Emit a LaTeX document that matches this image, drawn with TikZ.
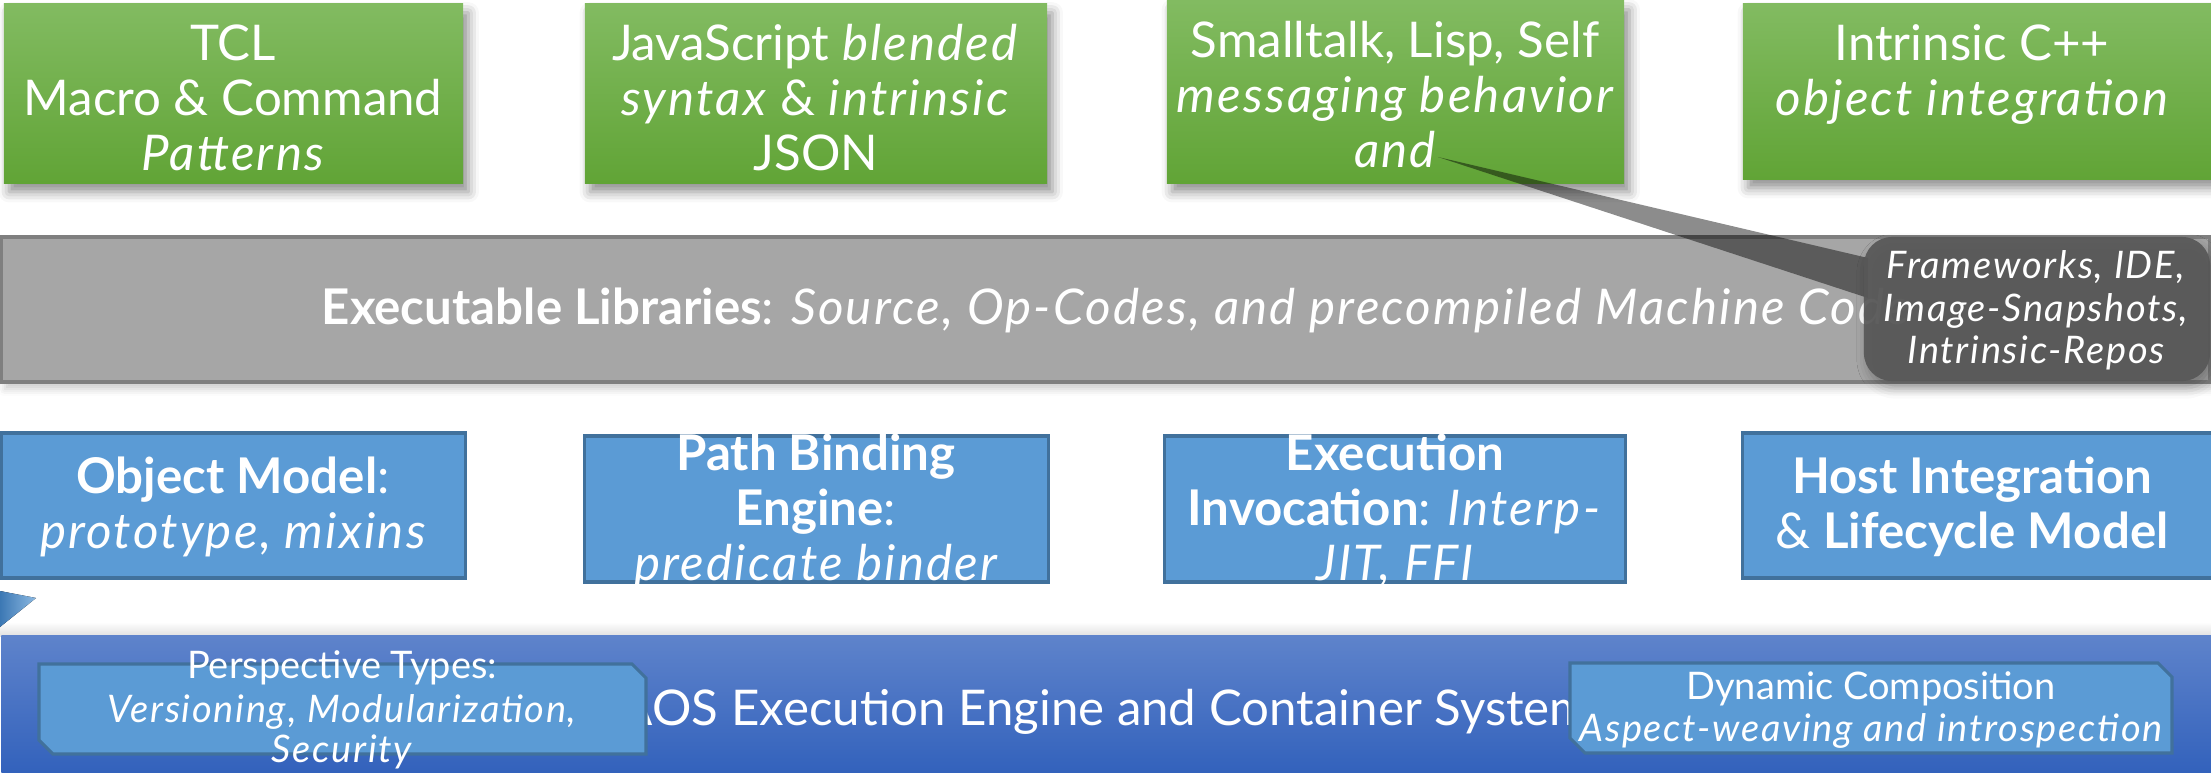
\documentclass[tikz,border=0pt]{standalone}
\usepackage{fontspec}
\setmainfont{Lato}[ItalicFeatures={LetterSpace=4.5}, BoldItalicFeatures={LetterSpace=4.5}]
\usetikzlibrary{shadows.blur}

\definecolor{grtop}{RGB}{130,187,97}
\definecolor{grbot}{RGB}{97,164,54}
\definecolor{bxfill}{RGB}{91,155,213}
\definecolor{bxline}{RGB}{65,113,156}
\definecolor{libfill}{RGB}{166,166,166}
\definecolor{libline}{RGB}{127,127,127}
\definecolor{bartop}{RGB}{94,131,203}
\definecolor{barbot}{RGB}{51,98,188}
\definecolor{notefill}{RGB}{88,88,88}
\definecolor{tipblue}{RGB}{60,120,180}

\begin{document}
\begin{tikzpicture}[x=0.01cm, y=-0.01cm,
  big/.style={text=white, anchor=base, inner sep=0pt, font=\fontsize{14.0}{16}\selectfont},
  small/.style={text=white, anchor=base, inner sep=0pt, font=\fontsize{10.8}{12}\selectfont},
  greenbox/.style={rectangle, inner sep=0pt, draw=none, top color=grtop, bottom color=grbot,
    blur shadow={shadow xshift=1.5pt, shadow yshift=-2.5pt, shadow blur radius=3pt, shadow opacity=45}},
  bluebox/.style={rectangle, inner sep=0pt, fill=bxfill, draw=bxline, line width=0.9pt},
  libbox/.style={rectangle, inner sep=0pt, fill=libfill, draw=libline, line width=0.9pt,
    blur shadow={shadow xshift=1pt, shadow yshift=-2pt, shadow blur radius=2pt, shadow opacity=20}},
  snipbox/.style={fill=bxfill, draw=bxline, line width=0.9pt},
  notebox/.style={rectangle, inner sep=0pt, rounded corners=8pt, fill=notefill, fill opacity=0.93,
    blur shadow={shadow xshift=1pt, shadow yshift=-2pt, shadow blur radius=3pt, shadow opacity=30}},
  notetail/.style={fill=black, fill opacity=0.45}
]
\useasboundingbox (0,0) rectangle (2211,772);

% language layer
\node[greenbox, minimum width=4.59cm, minimum height=1.79cm] (g1) at (233.5,93.5) {};
\node[greenbox, minimum width=4.62cm, minimum height=1.79cm] (g2) at (816,93.5) {};
\node[greenbox, minimum width=4.57cm, minimum height=1.82cm] (g3) at (1395.5,92) {};
\node[greenbox, minimum width=4.72cm, minimum height=1.75cm] (g4) at (1979,91.5) {};

\node[big] (g1a) at (233,60) {TCL};
\node[big] (g1b) at (233,115) {Macro \& Command};
\node[big] (g1c) at (233,170) {\itshape Patterns};

\node[big] (g2a) at (816,60) {JavaScript \textit{blended}};
\node[big] (g2b) at (816,115) {\textit{syntax} \& \textit{intrinsic}};
\node[big] (g2c) at (816,170) {JSON};

\node[big] (g3a) at (1395,57) {Smalltalk, Lisp, Self};
\node[big] (g3b) at (1395,112) {\itshape messaging behavior};
\node[big] (g3c) at (1395,167) {\itshape and};

\node[big] (g4a) at (1972,60) {Intrinsic C++};
\node[big] (g4b) at (1972,115) {\itshape object integration};

% library layer
\node[libbox, minimum width=22.07cm, minimum height=1.45cm] (lib) at (1105.5,309.5) {};
\node[big] (libt) at (1117,324) {\textbf{Executable Libraries}: \textit{Source, Op-Codes, and precompiled Machine Code}};

% callout on the library layer
\coordinate (tip) at (1438,157);
\coordinate (ta) at (1868,258);
\coordinate (tb) at (1868,298);
\fill[notetail] (tip) -- (ta) -- (tb) -- cycle;
\node[notebox, minimum width=3.46cm, minimum height=1.44cm] (note) at (2037,309) {};
\node[small] (nta) at (2036,278) {\itshape Frameworks, IDE,};
\node[small] (ntb) at (2036,321) {\itshape Image-Snapshots,};
\node[small] (ntc) at (2036,363) {\itshape Intrinsic-Repos};

% engine components
\node[bluebox, minimum width=4.63cm, minimum height=1.45cm] (b1) at (233.5,505.5) {};
\node[bluebox, minimum width=4.63cm, minimum height=1.46cm] (b2) at (816.5,509) {};
\node[bluebox, minimum width=4.60cm, minimum height=1.46cm] (b3) at (1395,509) {};
\node[bluebox, minimum width=4.72cm, minimum height=1.45cm] (b4) at (1979,505.5) {};

\node[big] (b1a) at (233,493) {\textbf{Object Model}:};
\node[big] (b1b) at (233,548) {\itshape prototype, mixins};

\begin{scope}
  \clip (b2.south west) rectangle (b2.north east);
  \node[big] (b2a) at (816,470) {\bfseries Path Binding};
  \node[big] (b2b) at (816,525) {\textbf{Engine}:};
  \node[big] (b2c) at (816,580) {\itshape predicate binder};
\end{scope}

\begin{scope}
  \clip (b3.south west) rectangle (b3.north east);
  \node[big] (b3a) at (1395,470) {\bfseries Execution};
  \node[big] (b3b) at (1395,525) {\textbf{Invocation}: \textit{Interp-}};
  \node[big] (b3c) at (1395,580) {\itshape JIT, FFI};
\end{scope}

\node[big] (b4a) at (1972,493) {\bfseries Host Integration};
\node[big] (b4b) at (1972,548) {\& \textbf{Lifecycle Model}};

% soft shadow above the engine bar
\fill[top color=white, bottom color=black!12] (0,622) rectangle (2211,636);

% arrow tip entering from the left edge
\fill[left color=tipblue, right color=bxfill!70!white] (0,591) -- (36,598) -- (0,627) -- cycle;

% engine bar
\node[rectangle, inner sep=0pt, top color=bartop, bottom color=barbot, minimum width=22.09cm, minimum height=1.36cm] (bar) at (1106.5,704) {};
\node[big] (bart) at (1105,725) {AOS Execution Engine and Container System};

% snipped-corner labels on the bar
\draw[snipbox] (39,664) -- (632,664) -- (646,678) -- (646,754) -- (53,754) -- (39,740) -- cycle;
\node[small] (pa) at (342,678) {Perspective Types:};
\node[small] (pb) at (342,722) {\itshape Versioning, Modularization,};
\node[small] (pc) at (342,762) {\itshape Security};

\draw[snipbox] (1570,663) -- (2158,663) -- (2172,677) -- (2172,753) -- (1585,753) -- (1570,738) -- cycle;
\node[small] (da) at (1871,699) {Dynamic Composition};
\node[small] (db) at (1871,741) {\itshape Aspect-weaving and introspection};
\end{tikzpicture}
\end{document}
